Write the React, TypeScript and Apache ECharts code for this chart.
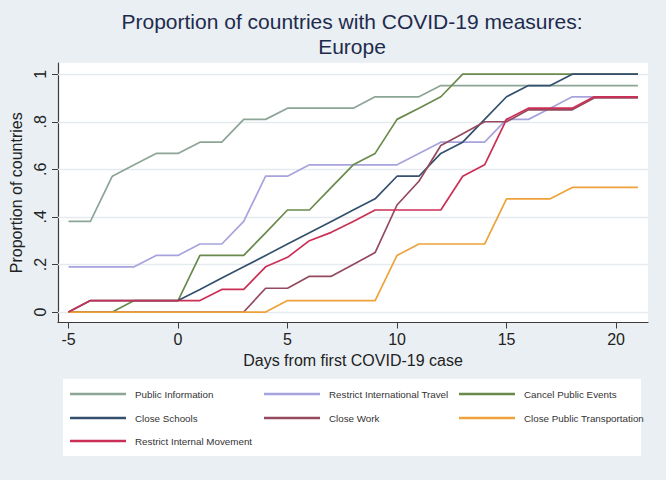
import React, { useEffect, useRef } from "react";
import * as echarts from "echarts";

const days = [-5, -4, -3, -2, -1, 0, 1, 2, 3, 4, 5, 6, 7, 8, 9, 10, 11, 12, 13, 14, 15, 16, 17, 18, 19, 20, 21];

const publicInformation = [0.381, 0.381, 0.571, 0.619, 0.667, 0.667, 0.714, 0.714, 0.81, 0.81, 0.857, 0.857, 0.857, 0.857, 0.905, 0.905, 0.905, 0.952, 0.952, 0.952, 0.952, 0.952, 0.952, 0.952, 0.952, 0.952, 0.952];
const restrictInternationalTravel = [0.19, 0.19, 0.19, 0.19, 0.238, 0.238, 0.286, 0.286, 0.381, 0.571, 0.571, 0.619, 0.619, 0.619, 0.619, 0.619, 0.667, 0.714, 0.714, 0.714, 0.81, 0.81, 0.857, 0.905, 0.905, 0.905, 0.905];
const cancelPublicEvents = [0, 0, 0, 0.048, 0.048, 0.048, 0.238, 0.238, 0.238, 0.333, 0.429, 0.429, 0.524, 0.619, 0.667, 0.81, 0.857, 0.905, 1, 1, 1, 1, 1, 1, 1, 1, 1];
const closeSchools = [0, 0.048, 0.048, 0.048, 0.048, 0.048, 0.095, 0.143, 0.19, 0.238, 0.286, 0.333, 0.381, 0.429, 0.476, 0.571, 0.571, 0.667, 0.714, 0.81, 0.905, 0.952, 0.952, 1, 1, 1, 1];
const closeWork = [0, 0, 0, 0, 0, 0, 0, 0, 0, 0.1, 0.1, 0.15, 0.15, 0.2, 0.25, 0.45, 0.55, 0.7, 0.75, 0.8, 0.8, 0.85, 0.85, 0.85, 0.9, 0.9, 0.9];
const closePublicTransportation = [0, 0, 0, 0, 0, 0, 0, 0, 0, 0, 0.048, 0.048, 0.048, 0.048, 0.048, 0.238, 0.286, 0.286, 0.286, 0.286, 0.476, 0.476, 0.476, 0.524, 0.524, 0.524, 0.524];
const restrictInternalMovement = [0, 0.048, 0.048, 0.048, 0.048, 0.048, 0.048, 0.095, 0.095, 0.19, 0.23, 0.3, 0.335, 0.381, 0.429, 0.429, 0.429, 0.429, 0.571, 0.619, 0.81, 0.857, 0.857, 0.857, 0.905, 0.905, 0.905];

const seriesNames = [
  "Public Information",
  "Restrict International Travel",
  "Cancel Public Events",
  "Close Schools",
  "Close Work",
  "Close Public Transportation",
  "Restrict Internal Movement",
];
const seriesValues = [
  publicInformation,
  restrictInternationalTravel,
  cancelPublicEvents,
  closeSchools,
  closeWork,
  closePublicTransportation,
  restrictInternalMovement,
];
const seriesColors = ["#8ca596", "#a7a3dc", "#6a8a4c", "#34506e", "#944a5e", "#eea23a", "#cc2f55"];

const xTickValues = [-5, 0, 5, 10, 15, 20];
const yTickValues = [0, 0.2, 0.4, 0.6, 0.8, 1];
const yTickLabels = ["0", ".2", ".4", ".6", ".8", "1"];

const titleLines = ["Proportion of countries with COVID-19 measures:", "Europe"];
const xAxisTitle = "Days from first COVID-19 case";
const yAxisTitle = "Proportion of countries";

// legend layout: [left of icon, row center y]
const legendPos: [number, number][] = [
  [70, 394],
  [264, 394],
  [459, 394],
  [70, 418],
  [264, 418],
  [459, 418],
  [70, 441],
];

const FONT = "'Liberation Sans', Arial, sans-serif";

export default function App() {
  const ref = useRef<HTMLDivElement>(null);
  useEffect(() => {
    document.body.style.margin = "0";
    if (!ref.current) return;
    const chart = echarts.init(ref.current, null, { renderer: "svg" });
    const legends = seriesNames.map((name, i) => ({
      data: [name],
      left: legendPos[i][0],
      top: legendPos[i][1] - 7,
      icon: "rect",
      itemWidth: 56,
      itemHeight: 2.5,
      selectedMode: false,
      padding: 0,
      textStyle: {
        fontFamily: FONT,
        fontSize: 9.8,
        color: "#333",
        lineHeight: 14,
        padding: [0, 0, 0, 4],
      },
    }));
    const gridSeries = {
      name: "__grid",
      type: "line",
      data: [],
      silent: true,
      z: 1,
      markLine: {
        silent: true,
        z: 1,
        symbol: "none",
        label: { show: false },
        lineStyle: { color: "#e4eaee", width: 1.3, type: "solid" },
        data: yTickValues.map((v) => ({ yAxis: v })),
      },
    };
    chart.setOption({
      animation: false,
      backgroundColor: "#e9eff3",
      graphic: [
        {
          type: "rect",
          z: 0,
          shape: { x: 63, y: 379, width: 578, height: 77 },
          style: { fill: "#ffffff" },
        },
        {
          type: "text",
          x: 352,
          y: 21,
          style: {
            text: titleLines[0],
            fontFamily: FONT,
            fontSize: 21,
            fill: "#1e2b4d",
            textAlign: "center",
            textVerticalAlign: "middle",
          },
        },
        {
          type: "text",
          x: 352,
          y: 46,
          style: {
            text: titleLines[1],
            fontFamily: FONT,
            fontSize: 21,
            fill: "#1e2b4d",
            textAlign: "center",
            textVerticalAlign: "middle",
          },
        },
      ],
      legend: legends,
      grid: {
        left: 58,
        top: 63,
        right: 18,
        bottom: 157.5,
        show: true,
        backgroundColor: "#ffffff",
        borderWidth: 0,
      },
      xAxis: {
        type: "value",
        min: -5.48,
        max: 21.46,
        name: xAxisTitle,
        nameLocation: "middle",
        nameGap: 28,
        nameTextStyle: { fontFamily: FONT, fontSize: 16, color: "#222" },
        axisLine: { show: true, onZero: false, lineStyle: { color: "#3c3c3c", width: 1.2 } },
        axisTick: { show: true, length: 6, customValues: xTickValues, lineStyle: { color: "#3c3c3c" } },
        axisLabel: {
          customValues: xTickValues,
          fontFamily: FONT,
          fontSize: 16,
          color: "#222",
          margin: 9,
        },
        splitLine: { show: false },
      },
      yAxis: {
        type: "value",
        min: -0.044,
        max: 1.047,
        name: yAxisTitle,
        nameLocation: "middle",
        nameRotate: 90,
        nameGap: 20,
        nameTextStyle: { fontFamily: FONT, fontSize: 16, color: "#222" },
        axisLine: { show: true, onZero: false, lineStyle: { color: "#3c3c3c", width: 1.2 } },
        axisTick: { show: true, length: 6, customValues: yTickValues, lineStyle: { color: "#3c3c3c" } },
        axisLabel: {
          customValues: yTickValues,
          rotate: 90,
          fontFamily: FONT,
          fontSize: 16,
          color: "#222",
          margin: 10,
          formatter: (v: number) => {
            const idx = yTickValues.findIndex((t) => Math.abs(t - v) < 1e-6);
            return idx >= 0 ? yTickLabels[idx] : "";
          },
        },
        splitLine: { show: false },
      },
      series: [
        gridSeries,
        ...seriesNames.map((name, i) => ({
          name,
          type: "line",
          data: days.map((d, j) => [d, seriesValues[i][j]]),
          showSymbol: false,
          symbol: "none",
          lineStyle: { color: seriesColors[i], width: 1.7 },
          itemStyle: { color: seriesColors[i] },
          z: 2 + i,
        })),
      ],
    });
    return () => chart.dispose();
  }, []);
  return <div ref={ref} style={{ width: 666, height: 480 }} />;
}
